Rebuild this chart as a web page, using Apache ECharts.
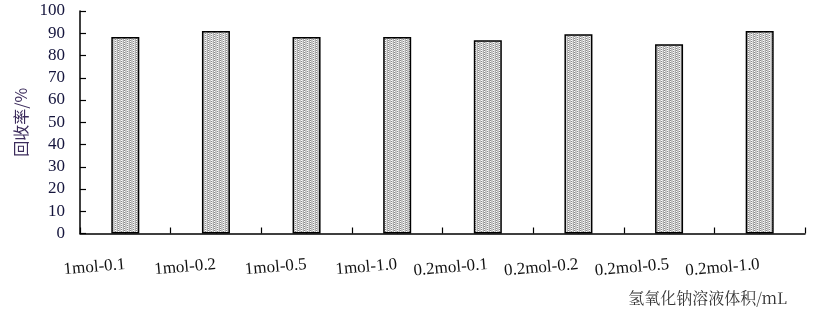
<!DOCTYPE html>
<html><head><meta charset="utf-8">
<script src="https://cdn.jsdelivr.net/npm/echarts@6/dist/echarts.min.js"></script>
<style>html,body{margin:0;padding:0;background:#fff}#c{width:814px;height:315px}</style>
</head><body><div id="c"></div>
<script>
const categories = ['1mol-0.1','1mol-0.2','1mol-0.5','1mol-1.0','0.2mol-0.1','0.2mol-0.2','0.2mol-0.5','0.2mol-1.0'];
const recovery = [88.3, 91.0, 88.3, 88.3, 86.9, 89.6, 85.1, 91.0];
const yTicks = [0,10,20,30,40,50,60,70,80,90,100];

function makePattern(){
  const c = document.createElement('canvas');
  c.width = 6; c.height = 2;
  const g = c.getContext('2d');
  const cols = ['#c8c8c8','#bcbcbc','#dadada','#b0b0b0','#cccccc','#c0c0c0'];
  for (let x=0;x<6;x++){ g.fillStyle = cols[x]; g.fillRect(x,0,1,2); }
  g.fillStyle = '#ffffff'; g.fillRect(1,0,1,1); g.fillRect(4,1,1,1);
  g.fillStyle = '#888888'; g.fillRect(1,1,1,1); g.fillRect(4,0,1,1);
  return c;
}

const chart = echarts.init(document.getElementById('c'), null, {renderer:'canvas'});
const serif = '"Liberation Serif","DejaVu Serif",serif';
chart.setOption({
  animation:false,
  grid:{left:80, right:9, top:11, bottom:81.5, containLabel:false},
  xAxis:[{
    type:'category', data:categories, position:'bottom',
    axisLine:{lineStyle:{color:'#000', width:1.5}},
    axisTick:{show:true, inside:true, length:6, alignWithLabel:false, lineStyle:{color:'#000', width:1.2}},
    axisLabel:{rotate:5, margin:31, fontFamily:serif, fontSize:17, color:'#111', interval:0},
    name:'氢氧化钠溶液体积/mL', nameLocation:'end', nameGap:0,
    nameTextStyle:{align:'right', verticalAlign:'top', padding:[56,18,0,0], fontSize:16, color:'#333', fontFamily:'"Noto Serif CJK SC","Noto Sans CJK SC",' + serif}
  },{
    type:'category', data:categories, position:'bottom',
    axisLine:{show:false},
    axisTick:{show:true, inside:true, length:6, alignWithLabel:true, lineStyle:{color:'#000', width:1.2}},
    axisLabel:{show:false}
  }],
  yAxis:{
    type:'value', min:0, max:100, interval:10,
    axisLine:{show:true, lineStyle:{color:'#000', width:1.5}},
    axisTick:{show:true, inside:true, length:6, lineStyle:{color:'#000', width:1.2}},
    splitLine:{show:false},
    axisLabel:{margin:15, fontFamily:serif, fontSize:17, color:'#14143c',
      formatter:v=> yTicks.includes(v) ? String(v) : ''},
    name:'回收率/%', nameLocation:'middle', nameGap:48,
    nameTextStyle:{fontSize:16, color:'#3c2c5c', fontFamily:'"Noto Sans CJK SC",' + serif}
  },
  series:[{
    type:'bar', data:recovery, barWidth:28, xAxisIndex:0,
    itemStyle:{color:{image:makePattern(), repeat:'repeat'}, borderColor:'#000', borderWidth:1.5},
    z:1
  }]
});
</script></body></html>
